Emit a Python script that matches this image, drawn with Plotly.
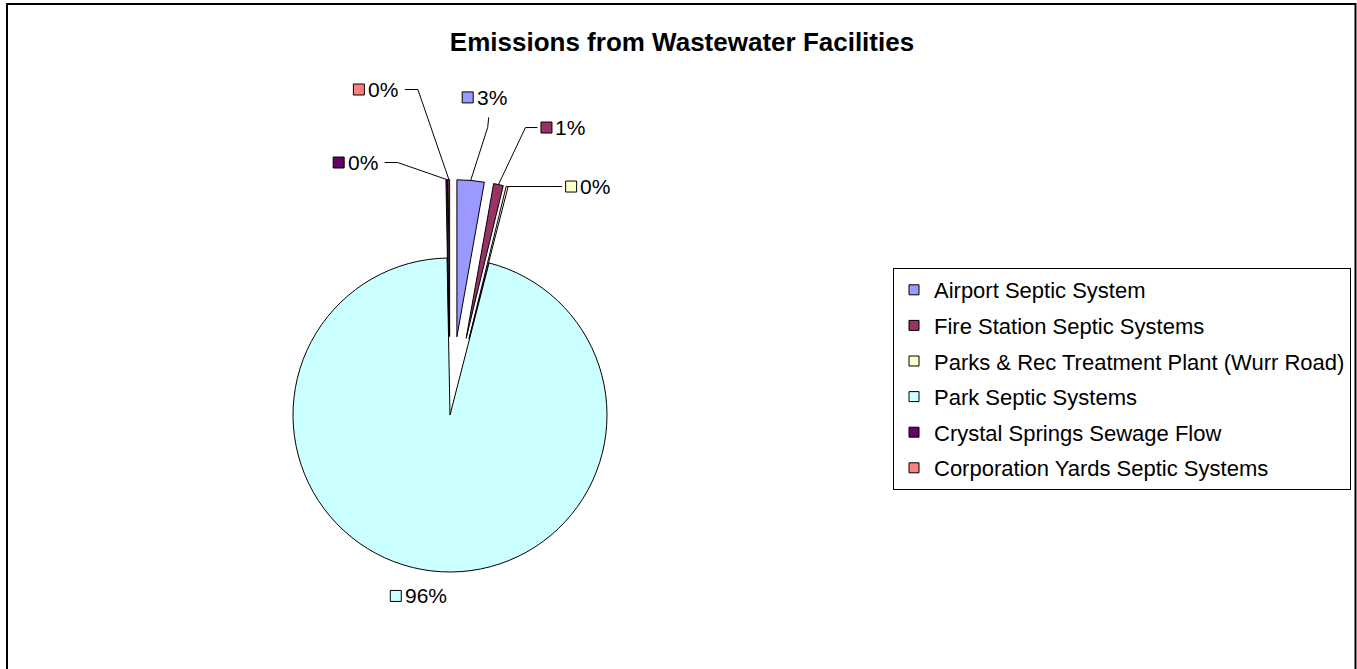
import math
import plotly.graph_objects as go

# ---------------- data ----------------
categories = [
    "Airport Septic System",
    "Fire Station Septic Systems",
    "Parks & Rec Treatment Plant (Wurr Road)",
    "Park Septic Systems",
    "Crystal Springs Sewage Flow",
    "Corporation Yards Septic Systems",
]
values = [2.8, 1.0, 0.2, 95.7, 0.15, 0.15]
title_text = "Emissions from Wastewater Facilities"

# ---------------- styles ----------------
colors = ["#9999FF", "#993366", "#FFFFCC", "#CCFFFF", "#660066", "#FF8080"]
pulls = [0.5, 0.5, 0.5, 0.0, 0.5, 0.5]
label_dx = [-3, 48, 64, -36, -108, -90]     # key-square offset from slice tip (px)
label_dy = [-83, -57, 0, 25, -17, -90]
leader = ["below", "right", "right", "none", "left", "left"]

W, H = 1357, 669
CX, CY, R = 450, 415, 157
FONT = "Liberation Sans, Arial, sans-serif"


def px(x):
    return x / W


def py(y):
    return 1 - y / H


maxpull = max(pulls)
half = R * (1 + maxpull)
domain_x = [px(CX - half), px(CX + half)]
domain_y = [py(CY + half), py(CY - half)]

fig = go.Figure()
fig.add_trace(go.Pie(
    labels=categories,
    values=values,
    sort=False,
    direction="clockwise",
    rotation=0,
    pull=pulls,
    marker=dict(colors=colors, line=dict(color="black", width=1)),
    textinfo="none",
    hoverinfo="label+percent",
    showlegend=False,
    domain=dict(x=domain_x, y=domain_y),
))

# legend entries (square keys like the original)
for i, (cat, col) in enumerate(zip(categories, colors)):
    fig.add_trace(go.Scatter(
        x=[None], y=[None], mode="markers", name=cat,
        legendgroup=f"g{i}",
        marker=dict(symbol="square", size=10, color=col,
                    line=dict(color="black", width=1)),
    ))

shapes = []
annotations = []
total = sum(values)
cum = 0.0
for i, v in enumerate(values):
    a0 = cum / total * 360
    cum += v
    a1 = cum / total * 360
    mid = math.radians((a0 + a1) / 2)
    dist = R * (1 + pulls[i])
    tx = CX + dist * math.sin(mid)
    ty = CY - dist * math.cos(mid)
    kx = tx + label_dx[i]
    ky = ty + label_dy[i]
    pct = round(v / total * 100)
    # key square
    shapes.append(dict(type="rect", xref="paper", yref="paper",
                       x0=px(kx - 5.5), x1=px(kx + 5.5),
                       y0=py(ky + 5.5), y1=py(ky - 5.5),
                       fillcolor=colors[i], line=dict(color="black", width=1)))
    annotations.append(dict(x=px(kx + 7), y=py(ky), xref="paper", yref="paper",
                            text=f"{pct}%", showarrow=False, xanchor="left",
                            yanchor="middle",
                            font=dict(family=FONT, size=21, color="black")))
    # leader lines
    kind = leader[i]
    if kind == "left":
        pts = [(kx + 46, ky), (kx + 59, ky), (tx, ty)]
    elif kind == "right":
        pts = [(kx - 9, ky), (kx - 21, ky), (tx, ty)]
    elif kind == "below":
        pts = [(kx + 21, ky + 20), (kx + 20, ky + 30), (tx, ty)]
    else:
        pts = []
    if pts:
        path = "M " + " L ".join(f"{px(a):.6f},{py(b):.6f}" for a, b in pts)
        shapes.append(dict(type="path", xref="paper", yref="paper", path=path,
                           line=dict(color="black", width=1)))

# outer chart border
shapes.append(dict(type="rect", xref="paper", yref="paper",
                   x0=px(7), x1=px(1355.5), y0=py(700), y1=py(4),
                   line=dict(color="black", width=2), fillcolor="rgba(0,0,0,0)"))

fig.update_layout(
    width=W, height=H,
    margin=dict(l=0, r=0, t=0, b=0),
    paper_bgcolor="white", plot_bgcolor="white",
    font=dict(family=FONT, color="black"),
    title=dict(text=f"<b>{title_text}</b>", x=px(682), y=py(42),
               xanchor="center", yanchor="middle",
               font=dict(family=FONT, size=26, color="black")),
    xaxis=dict(visible=False), yaxis=dict(visible=False),
    showlegend=True,
    legend=dict(x=px(893), y=py(268), xanchor="left", yanchor="top",
                bordercolor="black", borderwidth=1, bgcolor="white",
                font=dict(family=FONT, size=22, color="black"),
                tracegroupgap=4, itemclick=False),
    shapes=shapes,
    annotations=annotations,
)

# place the chart at the window's top-left corner (no default page margin)
fig.write_html("out.html", config={"displayModeBar": False},
               post_script="document.body.style.margin='0px';")
